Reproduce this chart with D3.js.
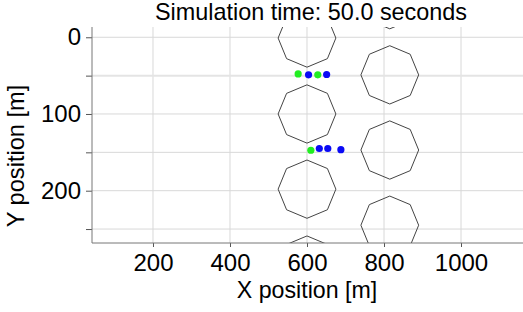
<!DOCTYPE html>
<html>
<head>
<meta charset="utf-8">
<script src="https://cdn.jsdelivr.net/npm/d3@7"></script>
<style>
  body { margin: 0; background: #fff; }
  svg text { font-family: "Liberation Sans", Arial, sans-serif; fill: #000; }
</style>
</head>
<body>
<div class="chart"></div>
<script>
// chart data
var titleText = "Simulation time: 50.0 seconds";
var xTicks = [200, 400, 600, 800, 1000];
var yTicks = [0, 50, 100, 150, 200, 250];
var yLabelTicks = [0, 100, 200];

// obstacle centres [x, y] in metres
var obstacles = [
  [600, 1], [600, 100], [600, 198], [600, 297],
  [815, -49], [815, 49], [815, 147], [815, 245]
];
var obstacleRx = 75;
var obstacleRy = 38;

// vehicles [x, y, group]
var vehX = [577, 604, 628, 651, 610, 632, 654, 688];
var vehY = [47.8, 49, 49, 48.5, 147.3, 145, 145, 146.5];
var vehGroup = ["g", "b", "g", "b", "g", "b", "b", "b"];

// set up svg
var svgWidth = 523;
var svgHeight = 312;
var plot = { left: 92, right: 523, top: 27, bottom: 243 };

var svg = d3.select(".chart")
  .append("svg")
  .attr("width", svgWidth)
  .attr("height", svgHeight);

var xScale = d3.scaleLinear()
  .domain([41.6, 1161])
  .range([plot.left, plot.right]);

var yScale = d3.scaleLinear()
  .domain([-13.4, 268.2])
  .range([plot.top, plot.bottom]);

svg.append("clipPath")
  .attr("id", "clip")
  .append("rect")
  .attr("x", plot.left)
  .attr("y", plot.top)
  .attr("width", plot.right - plot.left)
  .attr("height", plot.bottom - plot.top);

// grid lines
var grid = svg.append("g");
grid.selectAll("line.gx")
  .data(xTicks)
  .enter()
  .append("line")
  .attr("x1", d => xScale(d))
  .attr("x2", d => xScale(d))
  .attr("y1", plot.top)
  .attr("y2", plot.bottom)
  .attr("stroke", "#d8d8d8")
  .attr("stroke-width", 1);

grid.selectAll("line.gy")
  .data(yTicks)
  .enter()
  .append("line")
  .attr("x1", plot.left)
  .attr("x2", plot.right)
  .attr("y1", d => yScale(d))
  .attr("y2", d => yScale(d))
  .attr("stroke", d => d == 50 ? "#e4e4e4" : "#d8d8d8")
  .attr("stroke-width", d => d == 50 ? 2 : 1);

// obstacles as octagons
var inner = svg.append("g").attr("clip-path", "url(#clip)");
var angles = d3.range(8).map(i => i * Math.PI / 4);
inner.selectAll("polygon")
  .data(obstacles)
  .enter()
  .append("polygon")
  .attr("points", d => angles.map(a =>
      xScale(d[0] + obstacleRx * Math.sin(a)) + "," + yScale(d[1] - obstacleRy * Math.cos(a))
    ).join(" "))
  .attr("fill", "none")
  .attr("stroke", "#444")
  .attr("stroke-width", 1);

// vehicles
inner.selectAll("circle")
  .data(vehX)
  .enter()
  .append("circle")
  .attr("cx", d => xScale(d))
  .attr("cy", (d, i) => yScale(vehY[i]))
  .attr("r", 3.6)
  .attr("fill", (d, i) => vehGroup[i] == "g" ? "#22ee22" : "#0a0af5");

// axes
var bottomAxis = d3.axisBottom(xScale).tickValues(xTicks).tickSize(4).tickPadding(5)
  .tickFormat(d3.format("d"));
var leftAxis = d3.axisLeft(yScale).tickValues(yTicks).tickSize(6).tickPadding(5)
  .tickFormat(d => yLabelTicks.indexOf(d) >= 0 ? d : "");

var gx = svg.append("g")
  .attr("transform", `translate(0, ${plot.bottom})`)
  .call(bottomAxis);
var gy = svg.append("g")
  .attr("transform", `translate(${plot.left}, 0)`)
  .call(leftAxis);

[gx, gy].forEach(function(g) {
  g.select(".domain").remove();
  g.selectAll("line").attr("stroke", "#555");
  g.selectAll("text").attr("font-size", "24px").attr("fill", "#000")
    .style("font-family", "Liberation Sans, Arial, sans-serif");
});
gx.selectAll("text").attr("dy", "0.78em");

svg.append("line")
  .attr("x1", plot.left).attr("x2", plot.left)
  .attr("y1", plot.top).attr("y2", plot.bottom)
  .attr("stroke", "#777");
svg.append("line")
  .attr("x1", plot.left).attr("x2", plot.right)
  .attr("y1", plot.bottom).attr("y2", plot.bottom)
  .attr("stroke", "#777");

// labels
svg.append("text")
  .attr("x", 311)
  .attr("y", 20)
  .attr("text-anchor", "middle")
  .attr("font-size", "23.4px")
  .text(titleText);

svg.append("text")
  .attr("x", 307)
  .attr("y", 298)
  .attr("text-anchor", "middle")
  .attr("font-size", "23.2px")
  .text("X position [m]");

svg.append("text")
  .attr("transform", "translate(24, 156) rotate(-90)")
  .attr("text-anchor", "middle")
  .attr("font-size", "23.6px")
  .text("Y position [m]");
</script>
</body>
</html>
